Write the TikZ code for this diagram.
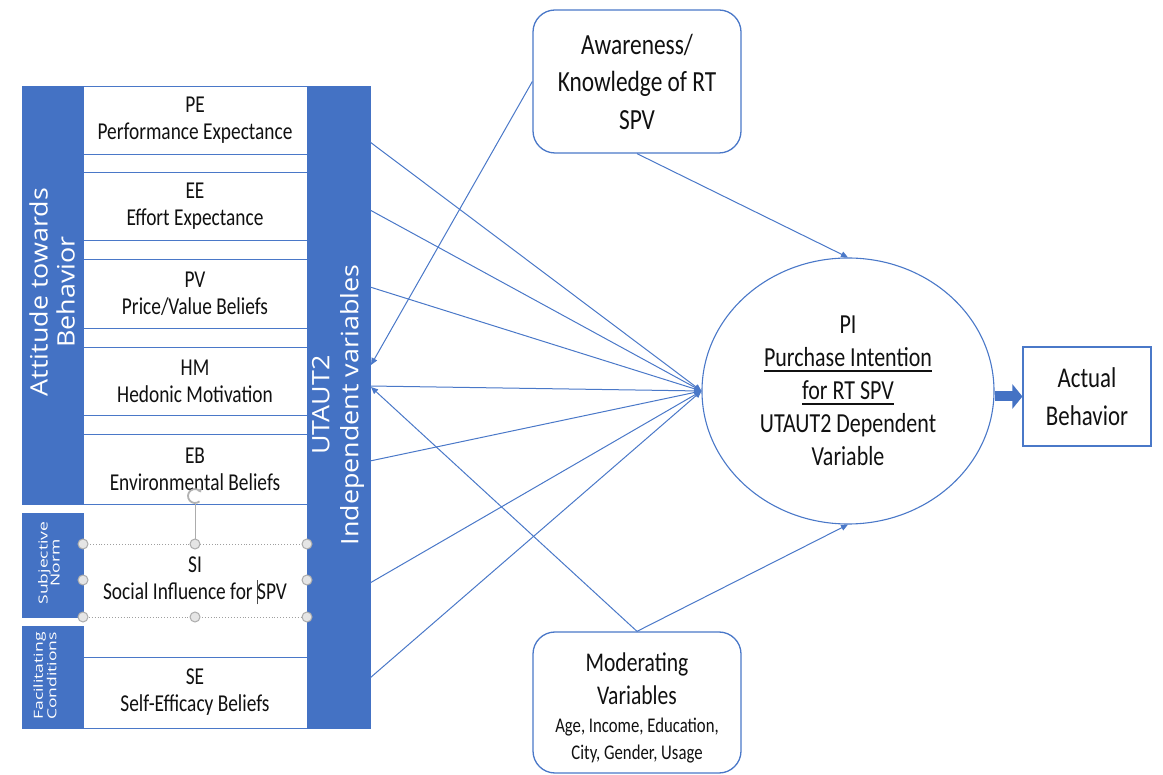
\documentclass[tikz,border=0pt]{standalone}
\usepackage{fontspec}
\setmainfont{Carlito}[FakeStretch=0.8]
\newfontfamily\rotA{Open Sans}[FakeStretch=1.12]
\newfontfamily\rotB{Open Sans}[FakeStretch=1.4]
\usetikzlibrary{arrows.meta,shapes.geometric}
\newcommand\thickul[1]{\setbox0\hbox{#1}\rlap{\rule[-5pt]{\wd0}{2pt}}\box0}
\definecolor{ublue}{HTML}{4472C4}
\definecolor{lblue}{HTML}{4A78C8}
\definecolor{txt}{HTML}{111111}
\begin{document}
\begin{tikzpicture}[x=1pt,y=-1pt,
  bar/.style={fill=ublue, draw=ublue, inner sep=0pt, outer sep=0pt, anchor=north west},
  cell/.style={draw=lblue, line width=0.8pt, fill=white, inner sep=0pt, outer sep=0pt,
    anchor=north west, minimum width=224pt, align=center, text=txt,
    font=\fontsize{24.2}{27}\selectfont},
  sel/.style={draw=gray!75, dotted, line width=0.9pt, fill=white, inner sep=0pt, outer sep=0pt,
    anchor=north west, minimum width=224pt, align=center, text=txt,
    font=\fontsize{24.2}{27}\selectfont},
  handle/.style={circle, draw=gray!65, fill=gray!20, line width=1pt, minimum size=10pt, inner sep=0pt},
  rlabel/.style={rotate=90, text=white, align=center},
  rbox/.style={draw=lblue, line width=1.3pt, rounded corners=22pt, fill=white,
    minimum width=208pt, align=center, text=txt},
  conn/.style={draw=lblue, line width=1pt, -{Triangle[length=7pt,width=6pt]}},
  fatarrow/.style={draw=ublue, line width=10pt, -{Triangle[length=10pt,width=24pt]}}
]
\useasboundingbox (0,0) rectangle (1163,775);

% cells
\node[cell, minimum height=68pt] (pe) at (83,86) {PE\\Performance Expectance};
\node[cell, minimum height=18pt] (s1) at (83,154) {};
\node[cell, minimum height=68pt] (ee) at (83,172) {EE\\Effort Expectance};
\node[cell, minimum height=19pt] (s2) at (83,240) {};
\node[cell, minimum height=69pt] (pv) at (83,259) {PV\\Price/Value Beliefs};
\node[cell, minimum height=19pt] (s3) at (83,328) {};
\node[cell, minimum height=68pt] (hm) at (83,347) {HM\\Hedonic Motivation};
\node[cell, minimum height=19pt] (s4) at (83,415) {};
\node[cell, minimum height=70pt] (eb) at (83,434) {EB\\Environmental Beliefs};
\node[sel, minimum height=73pt] (si) at (83,544) {SI\\Social Influence for \rlap{\color{black!70}\rule[-5pt]{0.8pt}{24pt}}SPV};
\node[cell, minimum height=71pt] (se) at (83,657) {SE\\Self-Efficacy Beliefs};

% bars
\node[bar, minimum width=61pt, minimum height=418pt] (att) at (22,86) {};
\node[bar, minimum width=61pt, minimum height=104pt] (sn) at (22,513) {};
\node[bar, minimum width=61pt, minimum height=102pt] (fc) at (22,626) {};
\node[bar, minimum width=63pt, minimum height=642pt] (ut) at (307,86) {};

\node[rlabel, font=\rotA\fontsize{24}{27}\selectfont] (attl) at (52,292) {Attitude towards\\Behavior};
\node[rlabel, font=\rotA\fontsize{24}{29}\selectfont] (utl) at (338,405) {UTAUT2\\Independent variables};
\node[rlabel, font=\rotB\fontsize{12.5}{12}\selectfont] (snl) at (49,563) {Subjective\\Norm};
\node[rlabel, font=\rotB\fontsize{12.5}{11}\selectfont] (fcl) at (45,676) {Facilitating\\Conditions};

% selection handles
\draw[gray!65, line width=1pt] (195,504) -- (195,544);
\draw[gray!60, line width=1.8pt, -{Triangle[length=3.5pt,width=5pt]}] (195,496) ++(50:7) arc[start angle=50, end angle=330, radius=7];
\foreach \p/\n in {{(83,544)}/h1,{(195,544)}/h2,{(307,544)}/h3,{(83,580)}/h4,{(307,580)}/h5,{(83,617)}/h6,{(195,617)}/h7,{(307,617)}/h8}
  \node[handle] (\n) at \p {};

% right side
\node[rbox, minimum height=143pt, font=\fontsize{29.2}{37.5}\selectfont] (aw) at (637,81.5) {Awareness/\\Knowledge of RT\\SPV};
\node[rbox, minimum height=141pt, font=\fontsize{27}{33}\selectfont] (mod) at (637,702.5)
  {\rule{0pt}{29pt}Moderating\\Variables\\[-5pt]\fontsize{20.9}{27}\selectfont Age, Income, Education,\\[-6pt]\fontsize{20.9}{27}\selectfont City, Gender, Usage};
\node[ellipse, draw=lblue, line width=1.1pt, minimum width=292pt, minimum height=266pt, inner sep=0pt,
  align=center, text=txt, font=\fontsize{27.5}{33}\selectfont] (pi) at (848,391)
  {PI\\\thickul{Purchase Intention}\\\thickul{for RT SPV}\\UTAUT2 Dependent\\Variable};
\node[draw=lblue, line width=1.1pt, minimum width=128pt, minimum height=99pt, align=center, text=txt,
  font=\fontsize{28.6}{38}\selectfont] (ab) at (1087,396.5) {Actual\\Behavior};

% connectors
\coordinate (u1) at (370,142);
\coordinate (u2) at (370,210);
\coordinate (u3) at (370,287);
\coordinate (u4) at (370,386);
\coordinate (u5) at (370,461);
\coordinate (u6) at (370,583);
\coordinate (u7) at (370,678);
\coordinate (ua) at (371,365);
\coordinate (um) at (371,387);
\foreach \i in {1,...,7} \draw[conn] (u\i) -- (pi.west);
\draw[conn] (aw.south) -- (pi.north);
\draw[conn] (mod.north) -- (pi.south);
\draw[conn] (aw.west) -- (ua);
\draw[conn] (mod.north) -- (um);
\draw[fatarrow] (pi.east |- ab.west) -- (ab.west);
\end{tikzpicture}
\end{document}
